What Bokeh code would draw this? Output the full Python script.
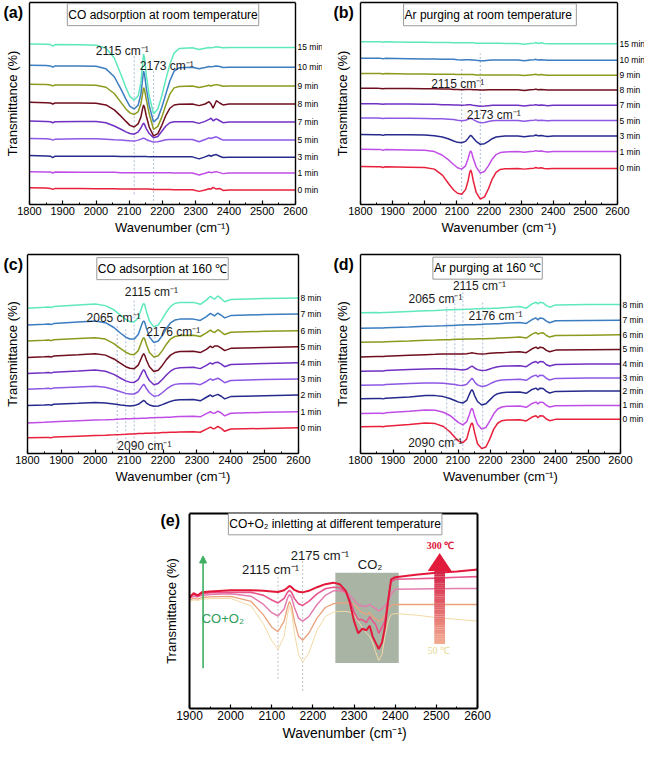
import math
import numpy as np
from bokeh.plotting import figure
from bokeh.layouts import column, row
from bokeh.models import (Range1d, LinearAxis, FixedTicker, SingleIntervalTicker,
                          Label, Arrow, NormalHead, Span, Title)
from bokeh.embed import file_html
from bokeh.resources import INLINE

SANS = "Liberation Sans"
NARROW = "'Liberation Sans Narrow', 'Liberation Sans', sans-serif"

# ---------------- data ----------------
# wavenumber grid shared by panels (a)-(d)
W = [1800, 1850, 1863, 1870, 1877, 1950, 2000, 2030, 2055,
     2075, 2090, 2102, 2115, 2127, 2135, 2140, 2143, 2146, 2151,
     2160, 2173, 2186, 2198, 2210, 2222, 2235, 2250, 2290,
     2310, 2328, 2340, 2346, 2352, 2362, 2372, 2382, 2400, 2500, 2600]

COLORS9 = ["#E8203C", "#C04EE6", "#262A8C", "#8D58E4", "#7030C2",
           "#6E0E1E", "#8C9B1E", "#3B7DC0", "#5FE8BE"]

# (a) CO adsorption at room temperature
A_TIMES = ["0 min", "1 min", "3 min", "5 min", "7 min", "8 min", "9 min", "10 min", "15 min"]
A_0 = [6.0, 5.9, 5.8, 5.5, 5.8, 5.8, 5.7, 5.7, 5.7,
       5.6, 5.6, 5.6, 5.6, 5.6, 5.6, 5.6, 5.6, 5.6, 5.6,
       5.6, 5.5, 5.5, 5.5, 5.5, 5.5, 5.4, 5.4, 5.4,
       4.9, 5.3, 5.7, 5.6, 6.1, 5.6, 5.8, 5.2, 5.3, 5.3, 5.3]
A_1 = [10.9, 10.8, 10.8, 10.5, 10.8, 10.7, 10.7, 10.7, 10.7,
       10.6, 10.6, 10.6, 10.6, 10.6, 10.6, 10.6, 10.6, 10.6, 10.6,
       10.6, 10.6, 10.6, 10.6, 10.6, 10.6, 10.5, 10.5, 10.5,
       9.9, 10.4, 10.8, 10.6, 10.7, 10.9, 10.6, 10.3, 10.5, 10.5, 10.5]
A_3 = [15.8, 15.7, 15.6, 15.2, 15.6, 15.6, 15.6, 15.6, 15.6,
       15.5, 15.5, 15.5, 15.5, 15.5, 15.5, 15.5, 15.5, 15.5, 15.5,
       15.4, 15.4, 15.4, 15.4, 15.4, 15.4, 15.4, 15.4, 15.4,
       14.8, 15.4, 15.9, 15.6, 15.9, 16.1, 15.6, 15.2, 15.3, 15.3, 15.3]
A_5 = [21.0, 20.9, 20.8, 20.5, 20.8, 20.9, 20.9, 20.8, 20.6,
       20.5, 20.4, 20.3, 20.2, 20.5, 20.8, 21.0, 21.1, 21.0, 20.7,
       20.3, 19.9, 20.0, 20.3, 20.6, 20.7, 20.7, 20.7, 20.7,
       20.0, 20.7, 21.2, 21.0, 21.2, 21.5, 21.0, 20.5, 20.5, 20.5, 20.5]
A_7 = [26.3, 26.2, 26.1, 25.8, 26.1, 26.2, 26.2, 25.8, 24.8,
       23.8, 23.0, 22.5, 22.3, 23.0, 24.2, 25.2, 25.7, 25.3, 24.0,
       22.5, 21.2, 21.6, 23.2, 24.8, 25.8, 26.1, 26.1, 26.1,
       25.6, 26.2, 26.8, 27.2, 26.4, 27.0, 26.4, 25.8, 26.0, 26.0, 26.0]
A_8 = [32.0, 31.9, 31.8, 31.5, 31.8, 31.8, 31.7, 31.2, 29.7,
       27.8, 26.2, 25.0, 24.5, 25.5, 27.5, 30.0, 31.2, 30.5, 28.0,
       24.5, 21.8, 22.5, 25.0, 28.0, 30.2, 31.2, 31.4, 31.5,
       31.0, 31.5, 32.2, 31.5, 30.2, 32.5, 31.8, 31.2, 31.5, 31.5, 31.5]
A_9 = [37.5, 37.4, 37.3, 37.0, 37.3, 37.3, 37.2, 36.6, 34.7,
       32.0, 30.0, 28.8, 28.3, 29.2, 31.5, 34.5, 36.5, 35.8, 33.0,
       28.5, 23.8, 24.7, 27.5, 31.2, 34.5, 36.4, 36.8, 37.0,
       36.5, 36.9, 37.2, 37.0, 37.2, 37.4, 37.2, 36.9, 37.0, 37.0, 37.0]
A_10 = [43.3, 43.2, 43.1, 42.7, 43.1, 43.1, 43.0, 42.2, 39.8,
        36.0, 33.0, 30.8, 30.0, 31.2, 34.5, 39.0, 41.5, 40.5, 36.5,
        31.0, 26.0, 27.2, 30.5, 34.5, 38.5, 41.5, 42.5, 42.7,
        42.2, 42.6, 42.9, 42.8, 42.9, 43.1, 42.9, 42.6, 42.7, 42.7, 42.7]
A_15 = [49.8, 49.7, 49.6, 49.1, 49.6, 49.5, 49.4, 48.5, 45.5,
        40.5, 36.5, 33.8, 32.7, 34.0, 38.0, 43.5, 46.7, 45.5, 40.5,
        34.0, 28.5, 30.0, 34.0, 39.0, 43.5, 47.0, 48.4, 48.6,
        48.1, 48.5, 48.7, 48.6, 48.7, 48.9, 48.8, 48.6, 48.7, 48.7, 48.7]

# (b) Ar purging at room temperature
B_TIMES = A_TIMES
B_0 = [12.8, 12.7, 12.7, 12.5, 12.7, 12.6, 12.5, 12.0, 10.2,
       7.5, 5.7, 4.7, 4.4, 5.8, 8.5, 11.0, 11.7, 11.0, 8.5,
       5.0, 2.9, 3.6, 6.0, 9.0, 11.0, 11.9, 12.1, 12.2,
       12.0, 12.2, 12.3, 12.5, 12.3, 12.4, 12.2, 12.1, 12.2, 12.2, 12.2]
B_1 = [18.0, 17.9, 17.9, 17.7, 17.9, 17.8, 17.7, 17.3, 16.2,
       14.7, 13.4, 12.4, 12.0, 13.0, 15.2, 17.0, 17.5, 17.0, 15.2,
       12.7, 10.8, 11.3, 13.0, 15.0, 16.4, 17.0, 17.2, 17.3,
       17.1, 17.3, 17.4, 17.6, 17.4, 17.5, 17.3, 17.2, 17.3, 17.3, 17.3]
B_3 = [22.5, 22.4, 22.4, 22.2, 22.4, 22.4, 22.3, 22.1, 21.7,
       21.1, 20.5, 20.1, 20.0, 20.4, 21.3, 22.0, 22.2, 22.0, 21.4,
       20.4, 19.5, 19.7, 20.4, 21.2, 21.7, 21.9, 22.0, 22.0,
       21.8, 22.0, 22.1, 22.3, 22.1, 22.2, 22.0, 21.9, 22.0, 22.0, 22.0]
B_5 = [27.5, 27.5, 27.4, 27.3, 27.4, 27.4, 27.3, 27.2, 27.2,
       27.1, 27.0, 26.8, 26.6, 26.8, 27.1, 27.3, 27.4, 27.3, 27.0,
       26.5, 26.0, 26.1, 26.4, 26.6, 26.7, 26.7, 26.7, 26.7,
       26.5, 26.7, 26.8, 26.9, 26.7, 26.8, 26.7, 26.6, 26.7, 26.7, 26.7]
B_7 = [31.8, 31.8, 31.7, 31.6, 31.7, 31.7, 31.6, 31.6, 31.5,
       31.5, 31.4, 31.4, 31.3, 31.4, 31.5, 31.5, 31.5, 31.4, 31.3,
       31.2, 31.0, 31.1, 31.2, 31.3, 31.3, 31.3, 31.3, 31.3,
       31.1, 31.3, 31.4, 31.5, 31.3, 31.4, 31.3, 31.2, 31.3, 31.3, 31.3]
B_8 = [36.5, 36.5, 36.4, 36.3, 36.4, 36.4, 36.3, 36.3, 36.2,
       36.2, 36.1, 36.1, 36.0, 36.1, 36.1, 36.1, 36.1, 36.1, 36.0,
       36.0, 35.9, 35.9, 36.0, 36.0, 36.0, 36.0, 36.0, 36.0,
       35.8, 36.0, 36.1, 36.2, 36.0, 36.1, 36.0, 35.9, 35.9, 35.9, 35.9]
B_9 = [40.9, 40.9, 40.9, 40.8, 40.9, 40.8, 40.8, 40.7, 40.7,
       40.7, 40.7, 40.6, 40.6, 40.6, 40.6, 40.6, 40.6, 40.6, 40.6,
       40.5, 40.5, 40.5, 40.5, 40.5, 40.5, 40.5, 40.5, 40.5,
       40.3, 40.5, 40.6, 40.7, 40.5, 40.6, 40.5, 40.4, 40.4, 40.4, 40.4]
B_10 = [45.5, 45.5, 45.5, 45.4, 45.5, 45.4, 45.3, 45.3, 45.2,
        45.2, 45.2, 45.1, 45.0, 45.1, 45.1, 45.1, 45.1, 45.0, 45.0,
        44.9, 44.8, 44.8, 44.9, 45.0, 45.0, 45.0, 45.0, 45.0,
        44.8, 45.0, 45.1, 45.2, 45.0, 45.1, 45.0, 44.9, 44.9, 44.9, 44.9]
B_15 = [50.5, 50.5, 50.5, 50.4, 50.5, 50.4, 50.4, 50.3, 50.3,
        50.3, 50.2, 50.2, 50.2, 50.2, 50.2, 50.2, 50.2, 50.2, 50.2,
        50.1, 50.1, 50.1, 50.1, 50.1, 50.1, 50.1, 50.0, 50.0,
        49.8, 50.0, 50.1, 50.3, 50.0, 50.2, 50.0, 49.9, 49.9, 49.9, 49.9]

# (c) CO adsorption at 160 C
C_TIMES = ["0 min", "1 min", "2 min", "3 min", "4 min", "5 min", "6 min", "7 min", "8 min"]
C_0 = [5.7, 5.8, 5.8, 5.7, 5.9, 6.2, 6.4, 6.5, 6.6,
       6.7, 6.8, 6.9, 6.9, 7.0, 7.0, 7.0, 7.0, 7.1, 7.1,
       7.1, 7.2, 7.2, 7.3, 7.3, 7.4, 7.4, 7.5, 7.6,
       7.4, 8.4, 9.0, 8.6, 8.5, 9.2, 8.6, 7.7, 8.4, 8.6, 8.8]
C_1 = [10.3, 10.5, 10.6, 10.6, 10.7, 11.0, 11.2, 11.3, 11.4,
       11.5, 11.6, 11.6, 11.7, 11.7, 11.8, 11.8, 11.8, 11.8, 11.8,
       11.9, 11.9, 12.0, 12.0, 12.1, 12.1, 12.2, 12.3, 12.4,
       12.2, 13.2, 13.8, 13.4, 13.3, 14.0, 13.4, 12.5, 13.3, 13.6, 13.8]
C_2 = [15.7, 15.9, 16.0, 15.8, 16.1, 16.4, 16.7, 16.5, 16.2,
       15.9, 15.7, 15.6, 15.7, 16.1, 16.7, 17.1, 17.3, 17.1, 16.5,
       15.9, 15.5, 15.6, 16.0, 16.5, 17.0, 17.4, 17.5, 17.6,
       17.2, 18.3, 19.0, 18.5, 18.8, 19.2, 18.6, 17.8, 18.5, 18.8, 19.0]
C_3 = [20.8, 21.0, 21.1, 20.9, 21.2, 21.5, 21.7, 21.4, 20.7,
       20.0, 19.5, 19.3, 19.3, 20.0, 21.2, 22.0, 22.3, 22.0, 21.0,
       19.7, 18.6, 18.8, 19.7, 20.8, 21.7, 22.3, 22.5, 22.6,
       22.2, 23.2, 24.0, 23.6, 23.8, 24.2, 23.6, 22.8, 23.5, 23.8, 24.0]
C_4 = [25.7, 25.9, 26.0, 25.8, 26.1, 26.5, 26.8, 26.4, 25.4,
       24.2, 23.4, 23.0, 22.9, 23.8, 25.4, 26.5, 26.9, 26.5, 25.2,
       23.5, 22.2, 22.6, 23.8, 25.2, 26.4, 27.2, 27.5, 27.6,
       27.2, 28.2, 29.0, 28.6, 29.0, 29.2, 28.6, 27.8, 28.5, 28.8, 29.0]
C_5 = [30.7, 30.9, 31.0, 30.8, 31.1, 31.5, 31.8, 31.4, 30.2,
       28.8, 27.8, 27.3, 27.2, 28.3, 30.2, 31.4, 31.8, 31.4, 29.9,
       27.8, 26.3, 26.7, 28.2, 30.0, 31.4, 32.2, 32.5, 32.6,
       32.2, 33.2, 34.2, 33.7, 34.2, 34.2, 33.6, 32.8, 33.5, 33.8, 34.0]
C_6 = [35.8, 36.0, 36.1, 35.9, 36.2, 36.6, 36.8, 36.4, 35.0,
       33.4, 32.3, 31.7, 31.5, 32.8, 35.0, 36.4, 36.8, 36.4, 34.7,
       32.2, 30.8, 31.2, 32.8, 34.8, 36.4, 37.2, 37.5, 37.6,
       37.2, 38.3, 39.2, 38.7, 38.4, 39.3, 38.6, 37.8, 38.5, 38.8, 39.0]
C_7 = [40.8, 41.0, 41.1, 40.9, 41.2, 41.7, 42.0, 41.5, 40.0,
       38.2, 37.0, 36.4, 36.4, 37.8, 40.2, 41.6, 42.0, 41.6, 39.8,
       37.0, 35.3, 35.8, 37.5, 39.7, 41.4, 42.3, 42.6, 42.6,
       42.2, 43.4, 44.4, 44.0, 43.6, 44.5, 43.8, 43.0, 43.7, 44.0, 44.2]
C_8 = [46.0, 46.3, 46.4, 46.2, 46.5, 47.0, 47.3, 46.8, 45.5,
       43.8, 42.5, 41.8, 41.7, 43.0, 45.5, 47.0, 47.5, 47.0, 45.0,
       42.0, 40.2, 40.8, 42.7, 44.8, 46.5, 47.5, 47.8, 47.8,
       47.2, 48.5, 49.7, 49.2, 48.8, 49.8, 49.0, 48.0, 48.7, 49.0, 49.2]

# (d) Ar purging at 160 C
D_TIMES = C_TIMES
D_0 = [9.7, 9.8, 9.8, 9.7, 9.9, 10.4, 10.9, 10.7, 9.8,
       8.2, 6.5, 5.3, 4.8, 6.0, 9.0, 10.5, 10.9, 10.3, 8.0,
       4.5, 3.0, 3.5, 6.0, 9.0, 10.8, 11.6, 11.8, 11.9,
       11.5, 12.7, 13.1, 12.5, 13.1, 13.0, 12.1, 11.6, 12.0, 12.0, 12.0]
D_1 = [13.8, 13.9, 13.9, 13.8, 14.0, 14.5, 14.9, 14.8, 14.2,
       13.2, 12.0, 11.0, 10.3, 11.3, 13.5, 15.0, 15.4, 14.9, 13.0,
       10.5, 9.0, 9.5, 11.5, 13.7, 15.2, 15.8, 16.0, 16.1,
       15.7, 16.9, 17.3, 16.7, 17.3, 17.2, 16.3, 15.8, 16.2, 16.3, 16.3]
D_2 = [18.3, 18.4, 18.4, 18.3, 18.5, 18.9, 19.3, 19.3, 19.0,
       18.4, 17.8, 17.3, 17.0, 17.8, 19.7, 20.8, 21.1, 20.7, 19.3,
       17.5, 16.4, 16.8, 18.0, 19.2, 19.9, 20.2, 20.3, 20.4,
       20.0, 21.2, 21.6, 21.0, 21.6, 21.5, 20.6, 20.1, 20.6, 20.7, 20.7]
D_3 = [22.5, 22.6, 22.6, 22.6, 22.7, 23.0, 23.2, 23.2, 23.1,
       22.9, 22.7, 22.5, 22.4, 22.8, 23.7, 24.3, 24.6, 24.3, 23.5,
       22.6, 22.1, 22.3, 22.9, 23.5, 23.9, 24.1, 24.2, 24.3,
       24.0, 25.2, 25.6, 25.0, 25.6, 25.5, 24.6, 24.1, 24.6, 24.7, 24.7]
D_4 = [26.8, 26.9, 26.9, 26.9, 27.0, 27.3, 27.5, 27.6, 27.6,
       27.5, 27.4, 27.3, 27.2, 27.4, 27.9, 28.2, 28.4, 28.2, 27.8,
       27.3, 27.0, 27.1, 27.5, 27.9, 28.2, 28.3, 28.4, 28.5,
       28.2, 29.4, 29.8, 29.3, 29.8, 29.7, 28.8, 28.4, 28.9, 29.0, 29.0]
D_5 = [31.2, 31.3, 31.3, 31.3, 31.4, 31.7, 31.9, 32.0, 32.1,
       32.1, 32.1, 32.1, 32.1, 32.2, 32.3, 32.4, 32.5, 32.4, 32.3,
       32.2, 32.1, 32.2, 32.3, 32.4, 32.5, 32.5, 32.6, 32.8,
       32.5, 33.7, 34.2, 33.7, 34.2, 34.0, 33.2, 32.8, 33.3, 33.4, 33.5]
D_6 = [35.7, 35.8, 35.8, 35.8, 35.9, 36.1, 36.3, 36.4, 36.5,
       36.5, 36.6, 36.6, 36.6, 36.7, 36.7, 36.7, 36.7, 36.7, 36.7,
       36.8, 36.8, 36.8, 36.9, 36.9, 37.0, 37.0, 37.1, 37.3,
       37.0, 38.2, 38.7, 38.2, 38.5, 38.6, 37.8, 37.3, 37.8, 37.9, 38.0]
D_7 = [40.0, 40.1, 40.1, 40.1, 40.2, 40.4, 40.6, 40.7, 40.8,
       40.9, 40.9, 41.0, 41.0, 41.1, 41.1, 41.1, 41.1, 41.1, 41.1,
       41.2, 41.2, 41.3, 41.3, 41.4, 41.4, 41.5, 41.6, 41.8,
       41.5, 42.7, 43.2, 42.6, 43.2, 43.0, 42.2, 41.7, 42.3, 42.4, 42.5]
D_8 = [44.8, 44.9, 44.8, 44.9, 44.9, 45.2, 45.4, 45.5, 45.6,
       45.7, 45.7, 45.8, 45.8, 45.9, 45.9, 45.9, 45.9, 45.9, 46.0,
       46.0, 46.0, 46.1, 46.1, 46.2, 46.2, 46.3, 46.4, 46.7,
       46.2, 47.5, 48.0, 47.5, 48.0, 47.8, 47.0, 46.5, 47.2, 47.3, 47.3]

# (e) CO + O2 at different temperature
WE = [1900, 1910, 1920, 1930, 1950, 2000, 2050, 2080, 2100, 2115,
      2130, 2138, 2143, 2148, 2155, 2165, 2175, 2190, 2210, 2230,
      2250, 2265, 2280, 2290, 2300, 2310, 2320, 2330, 2338, 2345,
      2352, 2360, 2368, 2375, 2383, 2390, 2400, 2450, 2500, 2550, 2600]
E_50 = [36.5, 37.0, 36.8, 37.2, 37.4, 37.5, 35.0, 29.0, 23.5, 20.7,
        25.0, 32.0, 35.0, 33.0, 26.0, 19.0, 16.5, 19.5, 27.0, 31.5,
        33.0, 33.2, 33.2, 33.0, 32.0, 30.0, 28.0, 26.0, 25.0, 23.0,
        20.0, 17.0, 19.0, 25.0, 30.0, 32.2, 32.5, 32.0, 31.2, 30.6, 30.0]
E_T2 = [37.0, 37.5, 37.3, 37.8, 38.0, 38.2, 36.5, 32.0, 28.0, 26.5,
        30.0, 34.5, 36.5, 35.0, 30.0, 25.0, 23.7, 26.0, 31.0, 34.5,
        35.8, 36.0, 36.0, 36.0, 35.5, 34.0, 32.8, 32.2, 32.8, 31.5,
        30.8, 30.0, 30.5, 32.0, 34.0, 35.2, 35.5, 35.5, 35.5, 35.5, 35.5]
E_T3 = [37.5, 38.2, 38.0, 38.5, 38.8, 39.0, 38.2, 35.5, 32.8, 31.7,
        34.0, 37.5, 38.8, 37.8, 34.5, 31.0, 30.0, 31.5, 35.5, 38.5,
        40.0, 40.0, 39.5, 38.5, 37.0, 35.5, 35.0, 34.8, 35.5, 34.8,
        34.2, 33.4, 34.0, 35.0, 36.5, 39.0, 40.5, 40.6, 40.7, 40.8, 40.8]
E_T4 = [37.8, 38.8, 38.2, 39.0, 39.4, 39.5, 39.5, 38.5, 37.0, 36.0,
        37.5, 39.5, 40.2, 39.5, 37.5, 35.7, 35.2, 36.5, 39.0, 40.7,
        41.2, 41.0, 39.5, 37.0, 33.0, 30.5, 30.5, 29.5, 31.5, 30.0,
        29.0, 26.0, 28.0, 30.0, 37.0, 43.0, 43.8, 44.0, 44.2, 44.5, 44.7]
E_300 = [37.8, 39.2, 38.5, 39.5, 39.8, 40.2, 40.2, 40.0, 39.8, 39.6,
         40.2, 41.0, 41.6, 41.2, 40.3, 39.7, 39.5, 40.0, 41.2, 42.2,
         42.7, 42.2, 40.0, 36.0, 30.0, 26.0, 27.5, 27.0, 28.5, 25.0,
         23.0, 20.8, 23.0, 28.0, 37.0, 43.8, 44.5, 45.3, 46.0, 46.4, 47.0]
E_COLORS = ["#F2D9A6", "#EBA27C", "#E27DAE", "#E8558C", "#E2183A"]
E_WIDTHS = [1.0, 1.3, 1.5, 1.6, 2.0]

# band positions (cm-1)
PEAKS_AB = [2115, 2173]
PEAKS_CD = [2065, 2090, 2115, 2176]
PEAKS_E = [2115, 2175]

for arr in [A_0, A_1, A_3, A_5, A_7, A_8, A_9, A_10, A_15, B_0, B_1, B_3, B_5, B_7, B_8, B_9,
            B_10, B_15, C_0, C_1, C_2, C_3, C_4, C_5, C_6, C_7, C_8, D_0, D_1, D_2, D_3, D_4,
            D_5, D_6, D_7, D_8]:
    assert len(arr) == len(W), len(arr)
for arr in [E_50, E_T2, E_T3, E_300, E_T4]:
    assert len(arr) == len(WE), len(arr)

CM = " cm\u207b\u00b9"


# ---------------- helpers ----------------
def make_panel(fw, fh, box_left, box_right, bt, bb, xbox, yr, lw=1.4, tick_font="11px",
               lab_font="13px", lab_w=95, lab_standoff=0, tick_standoff=2, letter="(a)",
               letter_dx=3, letter_dy=-1, ylab_dx=12):
    """The frame spans the whole figure width; the plot box runs from box_left to
    box_right px, leaving room inside the frame for the letter, y title and names."""
    box_w = box_right - box_left
    scale = (xbox[1] - xbox[0]) / box_w
    x0 = xbox[0] - box_left * scale
    x1 = xbox[1] + (fw - box_right) * scale
    p = figure(width=fw, height=fh, x_range=Range1d(x0, x1), y_range=Range1d(*yr),
               output_backend="svg", toolbar_location=None, y_axis_location=None,
               min_border_left=0, min_border_right=0, min_border_top=bt,
               min_border_bottom=bb)
    p.grid.visible = False
    p.outline_line_color = None
    xa = p.xaxis[0]
    xa.bounds = xbox
    xa.ticker = SingleIntervalTicker(interval=100, num_minor_ticks=2)
    xa.major_tick_in = 4
    xa.major_tick_out = 0
    xa.minor_tick_in = 2
    xa.minor_tick_out = 0
    xa.axis_line_width = lw
    xa.major_tick_line_width = 1.2
    xa.major_label_text_font = NARROW
    xa.major_label_text_font_size = tick_font
    xa.major_label_text_color = "black"
    xa.major_label_standoff = tick_standoff
    # x title, centred under the box
    p.add_layout(Title(text="Wavenumber (cm\u207b\u00b9)", align="left",
                       offset=box_left + (box_w - lab_w) / 2, standoff=lab_standoff,
                       text_font=NARROW, text_font_size=lab_font, text_font_style="normal",
                       text_color="black"), "below")
    # top edge of the box
    top = LinearAxis(bounds=xbox, ticker=FixedTicker(ticks=[], minor_ticks=[]),
                     axis_line_width=lw, major_tick_in=0, major_tick_out=0,
                     major_label_standoff=0)
    p.add_layout(top, "above")
    # left and right edges of the box
    for xb in xbox:
        p.add_layout(Span(location=xb, dimension="height", line_color="black",
                          line_width=lw))
    # y title and panel letter
    p.add_layout(Label(x=x0, y=(yr[0] + yr[1]) / 2, x_offset=ylab_dx, angle=math.pi / 2,
                       text="Transmittance (%)", text_align="center",
                       text_baseline="middle", text_font=SANS, text_font_size="13px",
                       text_color="black"))
    p.add_layout(Label(x=x0, y=yr[1], x_offset=letter_dx, y_offset=letter_dy, text=letter,
                       text_align="left", text_baseline="top", text_font=SANS,
                       text_font_style="bold", text_font_size="16px", text_color="black"))
    return p


def title_box(p, x, y, text):
    p.add_layout(Label(x=x, y=y, x_offset=2, y_offset=-2, text=text, text_align="center",
                       text_baseline="middle", text_font=NARROW, text_font_size="12px",
                       text_alpha=0, background_fill_color="black", padding=(1, 4)))
    p.add_layout(Label(x=x, y=y, text=text, text_align="center", text_baseline="middle",
                       text_font=NARROW, text_font_size="12px", text_color="black",
                       background_fill_color="white", border_line_color="#9a9a9a",
                       border_line_width=1, padding=(1, 4)))


def band_text(p, x, y, text, size="12px"):
    p.add_layout(Label(x=x, y=y, text=text, text_align="center", text_baseline="middle",
                       text_font=NARROW, text_font_size=size, text_color="#1a1a1a"))


def stacked_panel(fw, fh, box_left, box_right, bt, bb, yr, series, names, peaks, pk_lo,
                  pk_hi, title, tpos, letter, ldx, ldy, ylab_dx, bands):
    p = make_panel(fw, fh, box_left, box_right, bt, bb, (1800, 2600), yr, letter=letter,
                   letter_dx=ldx, letter_dy=ldy, ylab_dx=ylab_dx)
    p.segment(x0=peaks, y0=pk_lo, x1=peaks, y1=pk_hi, line_color="#B9C6DE",
              line_width=1.2, line_dash="2 2")
    for s, c in zip(series, COLORS9):
        p.line(W, s, line_color=c, line_width=1.5)
    # series names at the right end of each trace
    for s, nm in zip(series, names):
        p.add_layout(Label(x=W[-1], y=s[-1], x_offset=2, text=nm, text_align="left",
                           text_baseline="middle", text_font=NARROW, text_font_size="8.5px",
                           text_color="black"))
    title_box(p, tpos[0], tpos[1], title)
    for (bx, by, bt_) in bands:
        band_text(p, bx, by, bt_)
    return p


pa = stacked_panel(322, 251, 29, 295, 2, 47, (0.9, 62.4),
                   [A_0, A_1, A_3, A_5, A_7, A_8, A_9, A_10, A_15], A_TIMES,
                   PEAKS_AB, [4.0, 2.0], [46.5, 41.5],
                   "CO adsorption at room temperature", (2201.6, 58.7), "(a)", 3, -1, 12,
                   [(2079, 47.5, "2115" + CM), (2213, 43.0, "2173" + CM)])
pb = stacked_panel(322, 251, 38, 295, 2, 47, (1.3, 62.4),
                   [B_0, B_1, B_3, B_5, B_7, B_8, B_9, B_10, B_15], B_TIMES,
                   PEAKS_AB, [3.0, 3.0], [42.5, 47.0],
                   "Ar  purging at room temperature", (2203, 58.7), "(b)", 11, -1, 20,
                   [(2102.6, 37.7, "2115" + CM), (2215, 28.5, "2173" + CM)])
pc = stacked_panel(322, 249, 27, 298, 3, 47, (0.8, 62.7),
                   [C_0, C_1, C_2, C_3, C_4, C_5, C_6, C_7, C_8], C_TIMES,
                   PEAKS_CD, [2.5, 4.0, 3.0, 3.0], [40.5, 40.0, 49.0, 37.5],
                   "CO adsorption at 160 \u2103", (2198.6, 58.3), "(c)", 3, -1, 12,
                   [(2165.5, 51.0, "2115" + CM), (2054, 43.0, "2065" + CM),
                    (2230, 38.7, "2176" + CM), (2145, 3.0, "2090" + CM)])
pd_ = stacked_panel(322, 249, 38, 298, 3, 47, (1.5, 62.7),
                    [D_0, D_1, D_2, D_3, D_4, D_5, D_6, D_7, D_8], D_TIMES,
                    PEAKS_CD, [3.0, 4.0, 2.5, 3.0], [46.5, 50.0, 51.5, 48.5],
                    "Ar purging at 160 \u2103", (2191, 58.5), "(d)", 11, -1, 20,
                    [(2030.7, 49.0, "2065" + CM), (2166, 53.0, "2115" + CM),
                     (2215.6, 43.7, "2176" + CM), (2029.7, 4.7, "2090" + CM)])

# ---------------- panel (e) ----------------
yr_e = (1.2, 65.5)
pe = make_panel(644, 251, 189, 477, 13, 43, (1900, 2600), yr_e, lw=2, tick_font="12px",
                lab_font="14px", lab_w=102, lab_standoff=0, tick_standoff=2, letter="(e)",
                letter_dx=160, letter_dy=2, ylab_dx=171)
pe.quad(left=2254.5, right=2408.6, bottom=16.2, top=46.0, fill_color="#A9B4A5", line_color=None)
pe.segment(x0=PEAKS_E, y0=[11.0, 7.0], x1=PEAKS_E, y1=[45.0, 50.5], line_color="#C9C9C9",
           line_width=1.1, line_dash="2 2")
for s, c, lw in zip([E_50, E_T2, E_T3, E_T4, E_300], E_COLORS, E_WIDTHS):
    pe.line(WE, s, line_color=c, line_width=lw)

# gradient arrow (decoration)
n = 40
edges = np.linspace(22.5, 46.5, n + 1)
c0 = np.array([242, 170, 145])
c1 = np.array([212, 36, 72])
cols = []
for i in range(n):
    t = i / (n - 1)
    r, g, b = (c0 * (1 - t) + c1 * t).astype(int)
    cols.append("#%02x%02x%02x" % (r, g, b))
pe.quad(left=2495, right=2521, bottom=edges[:-1], top=edges[1:] + 0.05, fill_color=cols,
        line_color=None)
pe.patch([2479, 2537, 2508], [46.5, 46.5, 52.5], fill_color="#E31B3B", line_color=None)
pe.add_layout(Label(x=2510, y=54.8, text="300 \u2103", text_align="center",
                    text_baseline="middle", text_font="Liberation Serif",
                    text_font_size="10px", text_font_style="bold", text_color="#E0173A"))
pe.add_layout(Label(x=2506, y=20.3, text="50 \u2103", text_align="center",
                    text_baseline="middle", text_font="Liberation Serif",
                    text_font_size="10px", text_color="#E6D990"))

# green CO+O2 arrow
GREEN = "#3DAE62"
pe.add_layout(Arrow(end=NormalHead(size=7, fill_color=GREEN, line_color=GREEN),
                    x_start=1933, y_start=14.5, x_end=1933, y_end=51.5,
                    line_color=GREEN, line_width=1.6))
pe.add_layout(Label(x=1981, y=31.0, text="CO+O\u2082", text_align="center",
                    text_baseline="middle", text_font=NARROW, text_font_size="13px",
                    text_color="#2E9C5A"))

band_text(pe, 2097, 47.0, "2115" + CM, "13px")
band_text(pe, 2217, 51.7, "2175" + CM, "13px")
band_text(pe, 2339, 48.8, "CO\u2082", "13px")
title_box(pe, 2254, 62.1, "CO+O\u2082 inletting at different temperature")

layout = column(row(pa, pb), row(pc, pd_), pe)
open("out.html", "w").write(file_html(layout, INLINE))
